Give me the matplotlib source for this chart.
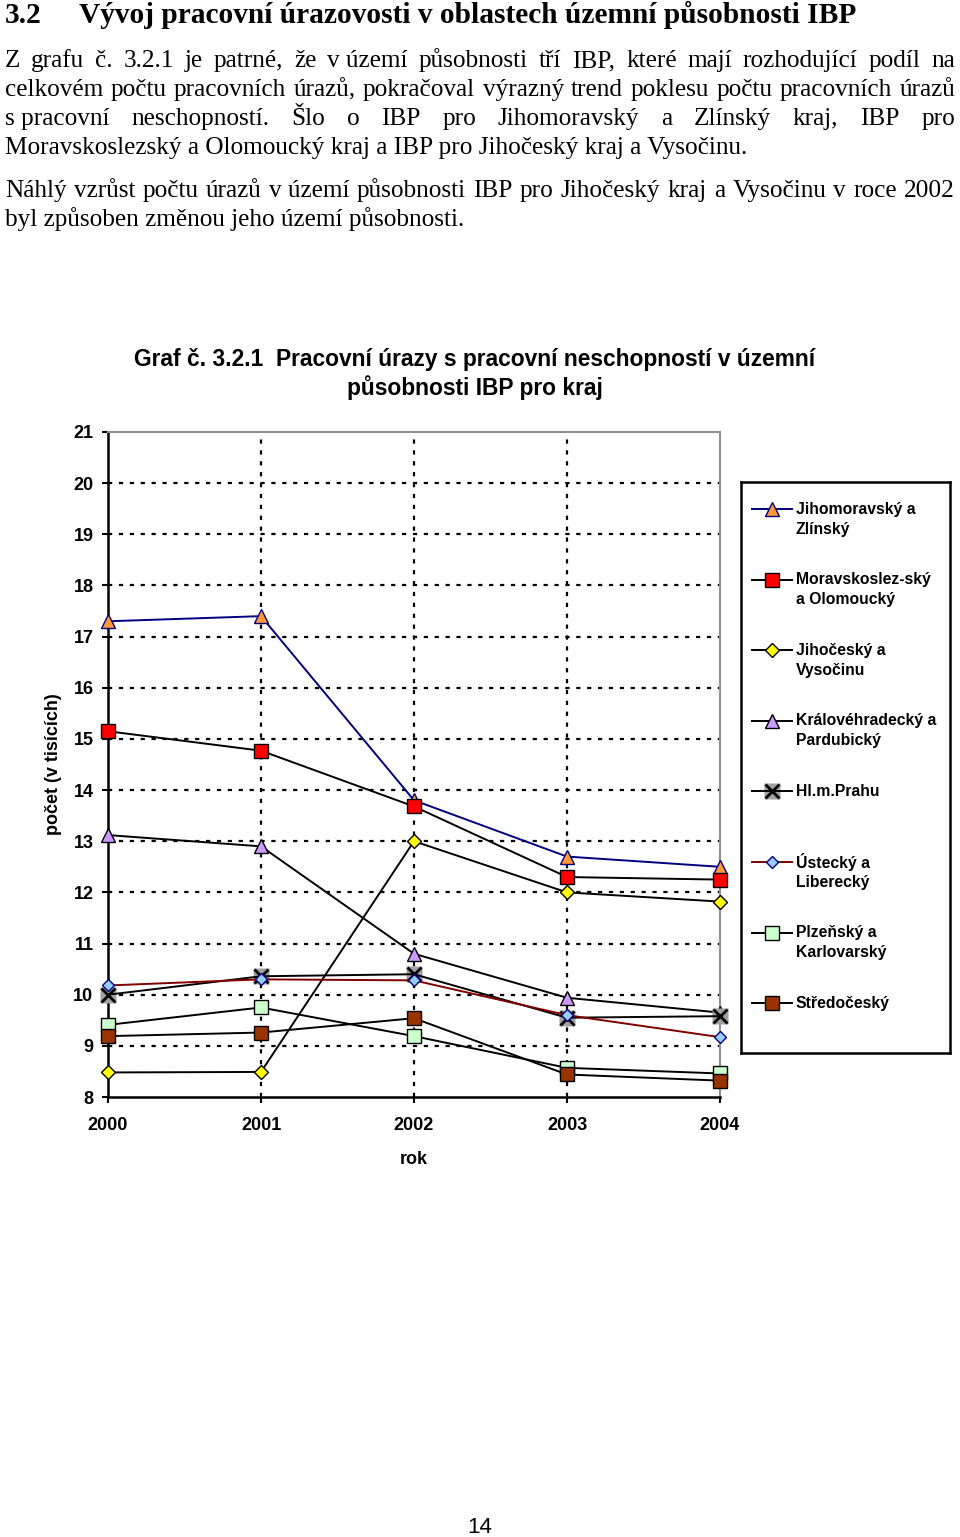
import matplotlib
matplotlib.use("Agg")
import matplotlib.pyplot as plt

# values (thousands of injuries)
years = [2000, 2001, 2002, 2003, 2004]
jihomoravsky = [17.3, 17.4, 13.8, 12.7, 12.5]
moravskoslezsky = [15.15, 14.77, 13.68, 12.3, 12.25]
jihocesky = [8.48, 8.49, 13.0, 12.0, 11.82]
kralovehradecky = [13.12, 12.9, 10.8, 9.94, 9.65]
praha = [10.0, 10.36, 10.4, 9.55, 9.58]
ustecky = [10.18, 10.3, 10.28, 9.6, 9.17]
plzensky = [9.41, 9.75, 9.19, 8.57, 8.46]
stredocesky = [9.19, 9.26, 9.54, 8.44, 8.32]

labels = ["Jihomoravský a\nZlínský", "Moravskoslez-ský\na Olomoucký",
          "Jihočeský a\nVysočinu", "Královéhradecký a\nPardubický",
          "Hl.m.Prahu", "Ústecký a\nLiberecký", "Plzeňský a\nKarlovarský",
          "Středočeský"]

heading_num = "3.2"
heading = "Vývoj pracovní úrazovosti v oblastech územní působnosti IBP"
par1 = ["Z grafu č. 3.2.1 je patrné, že v území působnosti tří IBP, které mají rozhodující podíl na",
        "celkovém počtu pracovních úrazů, pokračoval výrazný trend poklesu počtu pracovních úrazů",
        "s pracovní neschopností. Šlo o IBP pro Jihomoravský a Zlínský kraj, IBP pro",
        "Moravskoslezský a Olomoucký kraj a IBP pro Jihočeský kraj a Vysočinu."]
par2 = ["Náhlý vzrůst počtu úrazů v území působnosti IBP pro Jihočeský kraj a Vysočinu v roce 2002",
        "byl způsoben změnou jeho území působnosti."]
chart_title = ["Graf č. 3.2.1  Pracovní úrazy s pracovní neschopností v územní",
               "působnosti IBP pro kraj"]

W, H = 960, 1537
fig = plt.figure(figsize=(W / 100, H / 100), dpi=100)
r = fig.canvas.get_renderer()
serif = "Liberation Serif"
sans = "Liberation Sans"


def fx(x):
    return x / W


def fy(y):
    return 1 - y / H


def width_of(text, size, **kw):
    t = fig.text(0, 0, text, fontsize=size, **kw)
    w = t.get_window_extent(r).width
    t.remove()
    return w


def fit_size(text, px, **kw):
    return 20 * px / width_of(text, 20, **kw)


def justify(line, y, size, x0=5, x1=955):
    # keep the narrow "v území" / "s pracovní" pairs together
    words = line.replace("v území", "v\u00a0území").replace("s pracovní", "s\u00a0pracovní").split(" ")
    ws = [width_of(w.replace("\u00a0", " "), size, family=serif) for w in words]
    gap = (x1 - x0 - sum(ws)) / (len(words) - 1)
    x = x0
    for w, wd in zip(words, ws):
        fig.text(fx(x), fy(y), w.replace("\u00a0", " "), fontsize=size, family=serif, va="baseline")
        x += wd + gap


# page text
hsize = fit_size(heading, 776, family=serif, weight="bold")
fig.text(fx(5), fy(23), heading_num, fontsize=hsize, family=serif, weight="bold", va="baseline")
fig.text(fx(79), fy(23), heading, fontsize=hsize, family=serif, weight="bold", va="baseline")

bsize = fit_size(par1[3], 743, family=serif)
for i, y in enumerate([67, 96, 125]):
    justify(par1[i], y, bsize)
fig.text(fx(5), fy(154), par1[3], fontsize=bsize, family=serif, va="baseline")
justify(par2[0], 197, bsize)
fig.text(fx(5), fy(226), par2[1], fontsize=bsize, family=serif, va="baseline")

tsize = fit_size(chart_title[0], 682, family=sans, weight="bold")
fig.text(fx(475), fy(366), chart_title[0], fontsize=tsize, family=sans, weight="bold",
         ha="center", va="baseline")
fig.text(fx(475), fy(395), chart_title[1], fontsize=tsize, family=sans, weight="bold",
         ha="center", va="baseline")

fig.text(fx(480), fy(1533), "14", fontsize=16, family=sans, ha="center", va="baseline")

# chart
ax = fig.add_axes([fx(108), fy(1097), 612 / W, 665 / H])
series = [
    (jihomoravsky, dict(color="#000080", marker="^", mfc="#FF9933", mec="#000080", ms=10.5)),
    (moravskoslezsky, dict(color="black", marker="s", mfc="#FF0000", mec="black", ms=10.5)),
    (jihocesky, dict(color="black", marker="D", mfc="#FFFF00", mec="black", ms=7.5)),
    (kralovehradecky, dict(color="black", marker="^", mfc="#CC99FF", mec="black", ms=10.5)),
    (praha, dict(color="black", marker="x", mfc="none", mec="black", ms=10, mew=2)),
    (ustecky, dict(color="#800000", marker="D", mfc="#99CCFF", mec="#000080", ms=6.5)),
    (plzensky, dict(color="black", marker="s", mfc="#CCFFCC", mec="black", ms=10.5)),
    (stredocesky, dict(color="black", marker="s", mfc="#993300", mec="black", ms=10.5)),
]
# later series sit on top, as in the original
for i, (vals, st) in enumerate(series):
    if st["marker"] == "x":
        ax.plot(years, vals, ls="none", marker="s", ms=11, mfc="#A0A0A0", mec="none",
                zorder=3 + i, clip_on=False)
    ax.plot(years, vals, lw=1.4, zorder=3 + i, clip_on=False, **st)

ax.set_xlim(2000, 2004)
ax.set_ylim(8, 21)
ax.set_xticks(years)
ax.set_yticks(range(8, 22))
ax.grid(True, color="black", lw=1.6, ls=(0, (1.9, 3.0)))
ax.set_axisbelow(True)
ax.xaxis.get_gridlines()[0].set_visible(False)
ax.xaxis.get_gridlines()[-1].set_visible(False)
ax.yaxis.get_gridlines()[0].set_visible(False)
ax.yaxis.get_gridlines()[-1].set_visible(False)

for s in ["left", "bottom"]:
    ax.spines[s].set_linewidth(1.8)
    ax.spines[s].set_color("black")
for s in ["top", "right"]:
    ax.spines[s].set_linewidth(1.5)
    ax.spines[s].set_color("#909090")
ax.tick_params(axis="both", direction="out", length=4.5, width=1.5, labelsize=13)
ax.tick_params(axis="x", pad=10)
ax.tick_params(axis="y", pad=6)
for t in ax.get_xticklabels() + ax.get_yticklabels():
    t.set_fontweight("bold")
    t.set_family(sans)

ax.set_xlabel("rok", fontsize=13, fontweight="bold", family=sans, va="center")
ax.xaxis.set_label_coords(0.5, (1097 - 1159) / 665)
ax.set_ylabel("počet (v tisících)", fontsize=13, fontweight="bold", family=sans, va="center")
ax.yaxis.set_label_coords((53 - 108) / 612, (1097 - 764) / 665)

# legend box drawn in its own pixel-based axes
lax = fig.add_axes([fx(741), fy(1053), 209 / W, 571 / H])
lax.set_xlim(0, 209)
lax.set_ylim(571, 0)
lax.set_xticks([])
lax.set_yticks([])
for s in lax.spines.values():
    s.set_linewidth(1.8)
    s.set_color("black")
for k, (lab, (vals, st)) in enumerate(zip(labels, series)):
    y = 27 + k * 70.6
    if st["marker"] == "x":
        lax.plot([31], [y], ls="none", marker="s", ms=11, mfc="#A0A0A0", mec="none")
    lax.plot([11, 51], [y, y], lw=1.4, color=st["color"])
    lax.plot([31], [y], ls="none", **{kk: v for kk, v in st.items() if kk != "color"})
    for j, part in enumerate(lab.split("\n")):
        lax.text(55, y + j * 20, part, fontsize=11.3, fontweight="bold", family=sans, va="center")

fig.savefig("out.png", dpi=100)
